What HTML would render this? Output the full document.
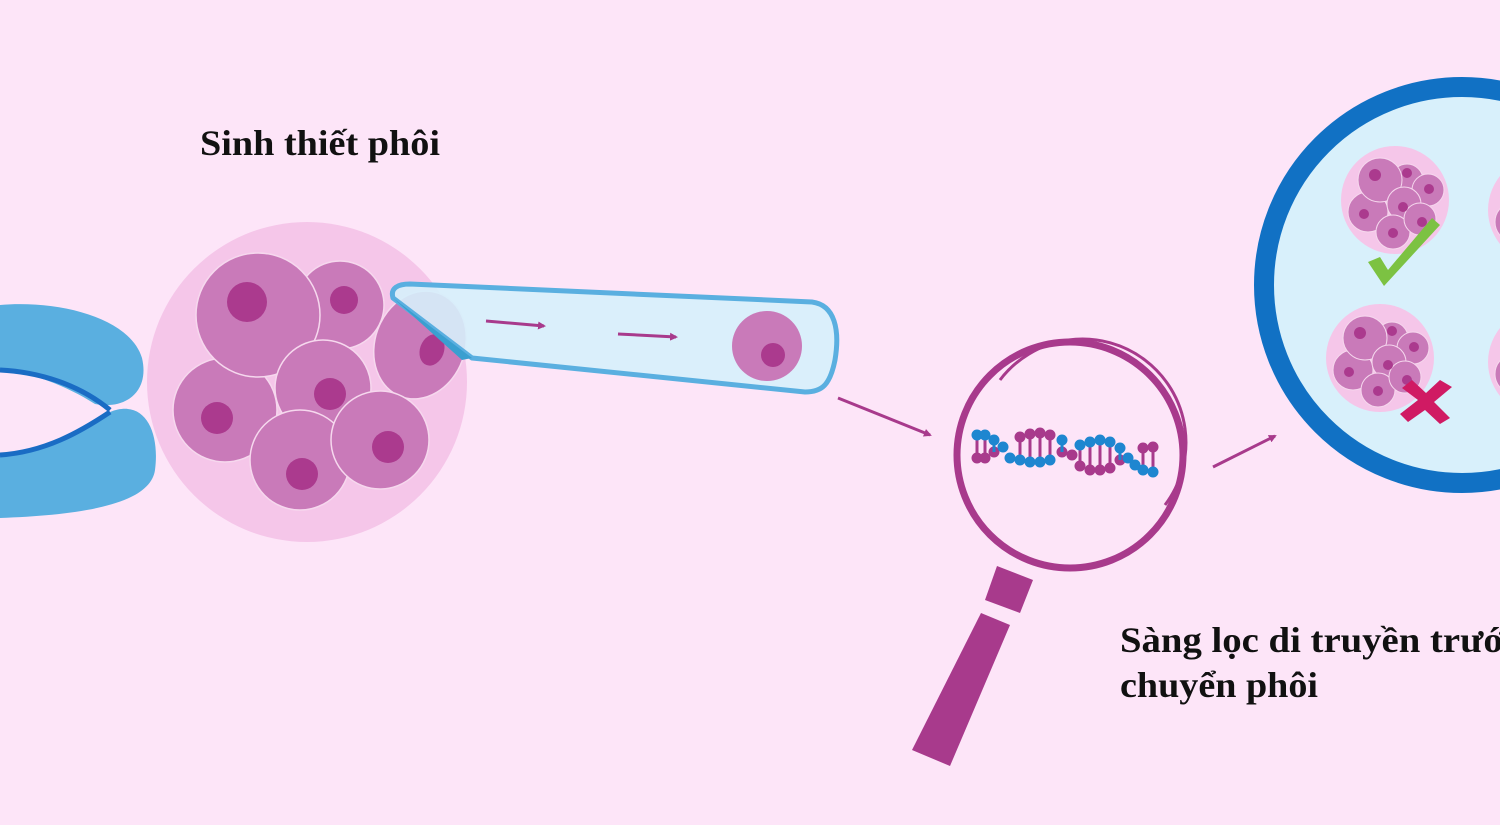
<!DOCTYPE html>
<html><head><meta charset="utf-8"><style>
html,body{margin:0;padding:0;background:#fde5f8;}
svg{display:block}
text{font-family:"Liberation Serif",serif;font-weight:bold;fill:#111;}
</style></head><body>
<svg width="1500" height="825" viewBox="0 0 1500 825" xmlns="http://www.w3.org/2000/svg">
<rect width="1500" height="825" fill="#fde5f8"/>
<defs>
<marker id="ah" markerWidth="8" markerHeight="8" refX="6" refY="4" orient="auto" markerUnits="userSpaceOnUse"><path d="M0,0 L8,4 L0,8 Z" fill="#a83a8c"/></marker>
</defs>
<path d="M0,305 C60,300 130,318 142,358 C150,392 125,410 95,404 C65,385 30,372 0,370 Z" fill="#5aafe0"/>
<path d="M0,370 C40,372 80,385 110,410" stroke="#1a6cc4" stroke-width="5" fill="none"/>
<path d="M0,455 C40,452 75,432 110,412 C145,398 160,432 155,470 C150,505 80,515 0,518 Z" fill="#5aafe0"/>
<path d="M0,455 C45,452 80,432 110,412" stroke="#1a6cc4" stroke-width="5" fill="none"/>
<circle cx="307" cy="382" r="160" fill="#f5c6e9"/>
<g fill="#c97ab9" stroke="#f6d8ee" stroke-width="1.5">
<ellipse cx="420" cy="345" rx="45" ry="55" transform="rotate(20 420 345)"/>
<circle cx="225" cy="410" r="52"/>
<circle cx="340" cy="305" r="44"/>
<circle cx="258" cy="315" r="62"/>
<circle cx="323" cy="388" r="48"/>
<circle cx="300" cy="460" r="50"/>
<circle cx="380" cy="440" r="49"/>
</g>
<g fill="#ab3a8e">
<circle cx="247" cy="302" r="20"/><circle cx="344" cy="300" r="14"/>
<ellipse cx="432" cy="350" rx="12" ry="16" transform="rotate(20 432 350)"/>
<circle cx="217" cy="418" r="16"/><circle cx="330" cy="394" r="16"/>
<circle cx="302" cy="474" r="16"/><circle cx="388" cy="447" r="16"/>
</g>
<path d="M393,298 C390,288 398,284 410,284 L812,302 C835,305 840,330 835,360 C830,385 822,392 805,392 L472,358 Z" fill="#d6f0fb" fill-opacity="0.9" stroke="#5aafe0" stroke-width="5" stroke-linejoin="round"/>
<path d="M393,298 L472,358 L462,360 Z" fill="#3a9fd0"/>
<circle cx="767" cy="346" r="35" fill="#c97ab9"/>
<circle cx="773" cy="355" r="12" fill="#ab3a8e"/>
<line x1="486" y1="321" x2="544" y2="326" stroke="#a83a8c" stroke-width="3" marker-end="url(#ah)"/>
<line x1="618" y1="334" x2="676" y2="337" stroke="#a83a8c" stroke-width="3" marker-end="url(#ah)"/>
<line x1="838" y1="398" x2="930" y2="435" stroke="#a83a8c" stroke-width="3" marker-end="url(#ah)"/>
<line x1="1213" y1="467" x2="1275" y2="436" stroke="#a83a8c" stroke-width="3" marker-end="url(#ah)"/>
<circle cx="1070" cy="455" r="113" fill="#fde5f8" stroke="#a83a8c" stroke-width="7"/>
<path d="M1000,380 A100,100 0 0 1 1165,505" stroke="#a83a8c" stroke-width="3" fill="none"/>
<path d="M997,566 L1033,580 L1020,613 L985,600 Z" fill="#a83a8c"/>
<path d="M981,613 L1010,625 L950,766 L912,750 Z" fill="#a83a8c"/>
<g stroke-width="3">
<g stroke="#a83a8c" fill="#a83a8c">
<line x1="977" y1="435" x2="977" y2="458"/><circle cx="977" cy="458" r="4"/>
<line x1="985" y1="435" x2="985" y2="458"/><circle cx="985" cy="458" r="4"/>
<circle cx="994" cy="452" r="4"/>
<line x1="1020" y1="437" x2="1020" y2="460"/><circle cx="1020" cy="437" r="4"/>
<line x1="1030" y1="434" x2="1030" y2="462"/><circle cx="1030" cy="434" r="4"/>
<line x1="1040" y1="433" x2="1040" y2="462"/><circle cx="1040" cy="433" r="4"/>
<line x1="1050" y1="435" x2="1050" y2="460"/><circle cx="1050" cy="435" r="4"/>
<circle cx="1062" cy="452" r="4"/><circle cx="1072" cy="455" r="4"/>
<line x1="1080" y1="445" x2="1080" y2="466"/><circle cx="1080" cy="466" r="4"/>
<line x1="1090" y1="442" x2="1090" y2="470"/><circle cx="1090" cy="470" r="4"/>
<line x1="1100" y1="440" x2="1100" y2="470"/><circle cx="1100" cy="470" r="4"/>
<line x1="1110" y1="442" x2="1110" y2="468"/><circle cx="1110" cy="468" r="4"/>
<circle cx="1120" cy="460" r="4"/>
<line x1="1143" y1="448" x2="1143" y2="470"/><circle cx="1143" cy="448" r="4"/>
<line x1="1153" y1="447" x2="1153" y2="472"/><circle cx="1153" cy="447" r="4"/>
</g>
<g stroke="#1e86d0" fill="#1e86d0">
<circle cx="977" cy="435" r="4"/><circle cx="985" cy="435" r="4"/>
<line x1="994" y1="440" x2="994" y2="452"/><circle cx="994" cy="440" r="4"/>
<circle cx="1003" cy="447" r="4"/><circle cx="1010" cy="458" r="4"/>
<circle cx="1020" cy="460" r="4"/><circle cx="1030" cy="462" r="4"/>
<circle cx="1040" cy="462" r="4"/><circle cx="1050" cy="460" r="4"/>
<line x1="1062" y1="440" x2="1062" y2="452"/><circle cx="1062" cy="440" r="4"/>
<circle cx="1080" cy="445" r="4"/><circle cx="1090" cy="442" r="4"/>
<circle cx="1100" cy="440" r="4"/><circle cx="1110" cy="442" r="4"/>
<line x1="1120" y1="448" x2="1120" y2="460"/><circle cx="1120" cy="448" r="4"/>
<circle cx="1128" cy="458" r="4"/><circle cx="1135" cy="465" r="4"/>
<circle cx="1143" cy="470" r="4"/><circle cx="1153" cy="472" r="4"/>
</g>
</g>
<circle cx="1462" cy="285" r="198" fill="#d8f0fb" stroke="#1171c4" stroke-width="20"/>
<g id="mini">
<circle cx="1395" cy="200" r="54" fill="#f5c6e9"/>
<g fill="#c97ab9" stroke="#f6d8ee" stroke-width="1">
<circle cx="1368" cy="212" r="20"/><circle cx="1407" cy="180" r="16"/>
<circle cx="1428" cy="190" r="16"/><circle cx="1380" cy="180" r="22"/>
<circle cx="1404" cy="204" r="17"/><circle cx="1393" cy="232" r="17"/>
<circle cx="1420" cy="219" r="16"/>
</g>
<g fill="#ab3a8e">
<circle cx="1375" cy="175" r="6"/><circle cx="1407" cy="173" r="5"/>
<circle cx="1429" cy="189" r="5"/><circle cx="1364" cy="214" r="5"/>
<circle cx="1403" cy="207" r="5"/><circle cx="1393" cy="233" r="5"/>
<circle cx="1422" cy="222" r="5"/>
</g>
</g>
<use href="#mini" transform="translate(-15,158)"/>
<use href="#mini" transform="translate(147,10)"/>
<use href="#mini" transform="translate(147,162)"/>
<path d="M1368,262 L1380,257 L1388,270 L1432,218 L1440,225 L1384,286 Z" fill="#7cc242"/>
<path d="M1402,388 L1412,380 L1426,393 L1440,380 L1452,387 L1434,402 L1450,418 L1440,424 L1425,410 L1408,422 L1400,414 L1418,400 Z" fill="#d01a63"/>
<text x="200" y="155" font-size="36" textLength="240" lengthAdjust="spacingAndGlyphs">Sinh thiết phôi</text>
<text x="1120" y="652" font-size="36" textLength="402" lengthAdjust="spacingAndGlyphs">Sàng lọc di truyền trước</text>
<text x="1120" y="697" font-size="36" textLength="198" lengthAdjust="spacingAndGlyphs">chuyển phôi</text>
</svg>
</body></html>
